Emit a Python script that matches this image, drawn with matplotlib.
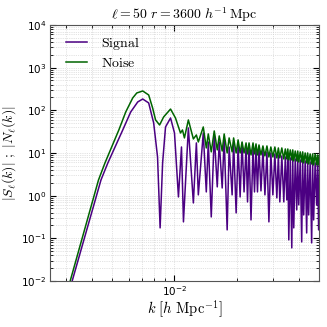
import matplotlib
matplotlib.use("Agg")
import matplotlib.pyplot as plt
from matplotlib.ticker import LogLocator, NullFormatter

# values (k in h/Mpc)
k_signal = [3.09e-3, 3.20e-3, 4.41e-3, 4.76e-3, 5.62e-3, 6.14e-3,
            6.64e-3, 7.02e-3, 7.50e-3, 7.93e-3, 8.28e-3, 8.52e-3, 8.76e-3, 9.05e-3,
            9.57e-3, 1.000e-2, 1.045e-2, 1.081e-2, 1.105e-2, 1.167e-2, 1.234e-2, 1.276e-2,
            1.304e-2, 1.378e-2, 1.425e-2, 1.457e-2, 1.506e-2, 1.557e-2, 1.610e-2, 1.646e-2,
            1.701e-2, 1.739e-2, 1.798e-2, 1.838e-2, 1.900e-2, 1.932e-2, 1.987e-2, 2.031e-2,
            2.077e-2, 2.123e-2, 2.170e-2, 2.219e-2, 2.256e-2, 2.294e-2, 2.345e-2, 2.398e-2,
            2.438e-2, 2.479e-2, 2.520e-2, 2.563e-2, 2.620e-2, 2.678e-2,
            0.02738, 0.02800, 0.02862, 0.02925, 0.02992, 0.03059, 0.03127, 0.03180,
            0.03233, 0.03305, 0.03379, 0.03436, 0.03494, 0.03533, 0.03572, 0.03632,
            0.03693, 0.03733, 0.03775, 0.03838, 0.03902, 0.03946, 0.03990, 0.04057,
            0.04124, 0.04170, 0.04217, 0.04287, 0.04359, 0.04407, 0.04457, 0.04531,
            0.04608, 0.04659, 0.04711, 0.04790, 0.04870, 0.04924, 0.04979, 0.05034]
signal = [4.5e-3, 1.0e-2, 2.33, 5.83, 34.6, 91.4,
          157, 184, 149, 50.5, 8.06, 0.175, 5.83, 40.7,
          66.1, 29.4, 0.93, 13.8, 0.242, 38.6, 0.673, 17.2,
          1.04, 29.4, 1.22, 18.1, 0.316, 26.4, 1.60, 18.1,
          1.51, 22.5, 0.157, 13.8, 1.04, 18.1, 0.393, 15.4,
          0.93, 17.2, 1.22, 13.8, 0.711, 15.4, 0.269, 13.8,
          1.22, 13.1, 1.22, 13.1, 1.29, 11.8,
          1.04, 10.6, 0.242, 10.0, 1.04, 9.48, 0.883, 8.98,
          0.711, 8.51, 0.711, 8.06, 0.792, 8.06, 0.0914, 7.64,
          0.0594, 7.64, 0.175, 7.23, 0.461, 7.23, 0.605, 6.85,
          0.082, 6.85, 0.352, 6.50, 0.133, 6.50, 0.352, 6.15,
          0.0778, 6.15, 0.269, 5.83, 0.605, 5.83, 0.157, 5.52]

k_noise = [3.03e-3, 3.13e-3, 4.29e-3, 4.61e-3, 5.38e-3, 5.81e-3,
           6.28e-3, 6.57e-3, 7.02e-3, 7.50e-3, 7.84e-3, 8.10e-3, 8.47e-3, 8.86e-3,
           9.57e-3, 1.011e-2, 1.069e-2, 1.093e-2, 1.117e-2, 1.167e-2, 1.234e-2, 1.276e-2,
           1.304e-2, 1.378e-2, 1.425e-2, 1.457e-2, 1.506e-2, 1.557e-2, 1.610e-2, 1.646e-2,
           1.701e-2, 1.739e-2, 1.798e-2, 1.838e-2, 1.900e-2, 1.932e-2, 1.987e-2, 2.031e-2,
           2.077e-2, 2.123e-2, 2.170e-2, 2.219e-2, 2.256e-2, 2.294e-2, 2.345e-2, 2.398e-2,
           2.438e-2, 2.479e-2, 2.520e-2, 2.563e-2, 2.620e-2, 2.678e-2,
           0.02738, 0.02800, 0.02862, 0.02925, 0.02992, 0.03059, 0.03127, 0.03180,
           0.03233, 0.03305, 0.03379, 0.03436, 0.03494, 0.03533, 0.03572, 0.03632,
           0.03693, 0.03733, 0.03775, 0.03838, 0.03902, 0.03946, 0.03990, 0.04057,
           0.04124, 0.04170, 0.04217, 0.04287, 0.04359, 0.04407, 0.04457, 0.04531,
           0.04608, 0.04659, 0.04711, 0.04790, 0.04870, 0.04924, 0.04979, 0.05034]
noise = [4.5e-3, 1.0e-2, 2.33, 5.83, 34.6, 91.4,
         195, 255, 284, 229, 113, 59.4, 45.3, 69.8,
         107, 66.1, 29.4, 34.6, 22.5, 59.4, 21.3, 26.4,
         18.1, 40.7, 13.1, 27.9, 10.6, 32.8, 11.8, 25.1,
         11.1, 27.9, 10.0, 22.5, 10.6, 22.5, 10.0, 20.2,
         10.0, 18.1, 10.0, 17.2, 9.48, 17.2, 8.98, 17.2,
         9.48, 16.3, 8.98, 15.4, 8.98, 14.6,
         8.51, 14.6, 8.06, 13.8, 8.06, 13.8, 7.64, 13.1,
         7.64, 13.1, 7.23, 12.4, 7.23, 12.4, 6.85, 11.8,
         6.85, 11.8, 6.50, 11.1, 6.50, 11.1, 6.15, 10.6,
         6.15, 10.6, 5.83, 10.0, 5.83, 10.0, 5.52, 9.48,
         5.52, 9.48, 5.23, 9.48, 5.23, 8.98, 5.23, 8.98]

fig = plt.figure(figsize=(3.27, 3.27), dpi=100)
ax = fig.add_axes([0.153, 0.141, 0.8225, 0.7825])

ax.plot(k_signal, signal, color='#4b0082', lw=1.1, label=r'$\mathrm{Signal}$')
ax.plot(k_noise, noise, color='#006400', lw=1.1, label=r'$\mathrm{Noise}$')

ax.set_xscale('log')
ax.set_yscale('log')
ax.set_xlim(2.5e-3, 5e-2)
ax.set_ylim(1e-2, 1e4)
ax.yaxis.set_major_locator(LogLocator(base=10, numticks=10))
ax.yaxis.set_minor_locator(LogLocator(base=10, subs=range(2, 10), numticks=10))
ax.yaxis.set_minor_formatter(NullFormatter())
ax.xaxis.set_minor_formatter(NullFormatter())

ax.grid(True, which='both', ls=':', lw=0.5, color='#c8c8c8')
ax.tick_params(which='both', direction='in', top=True, right=True, labelsize=7.5)
ax.tick_params(which='major', length=4, pad=2.5)
ax.tick_params(which='minor', length=2)
for s in ax.spines.values():
    s.set_color('#555555')

ax.set_title(r'$\ell=50\ r=3600\ h^{-1}\,\mathrm{Mpc}$', fontsize=10, math_fontfamily='cm', pad=4)
ax.set_xlabel(r'$k\ [h\ \mathrm{Mpc}^{-1}]$', fontsize=10.5, math_fontfamily='cm')
ax.set_ylabel(r'$|S_\ell(k)|\ ;\ |N_\ell(k)|$', fontsize=10, math_fontfamily='cm')
ax.xaxis.set_label_coords(0.5, -0.068)
ax.yaxis.set_label_coords(-0.118, 0.5)
ax.legend(loc='upper left', bbox_to_anchor=(0.045, 0.977), frameon=False,
          prop={'size': 10, 'math_fontfamily': 'cm'},
          handlelength=1.5, handletextpad=1.0, labelspacing=0.3, borderaxespad=0.0,
          borderpad=0.3)

fig.savefig('out.png', dpi=100)
